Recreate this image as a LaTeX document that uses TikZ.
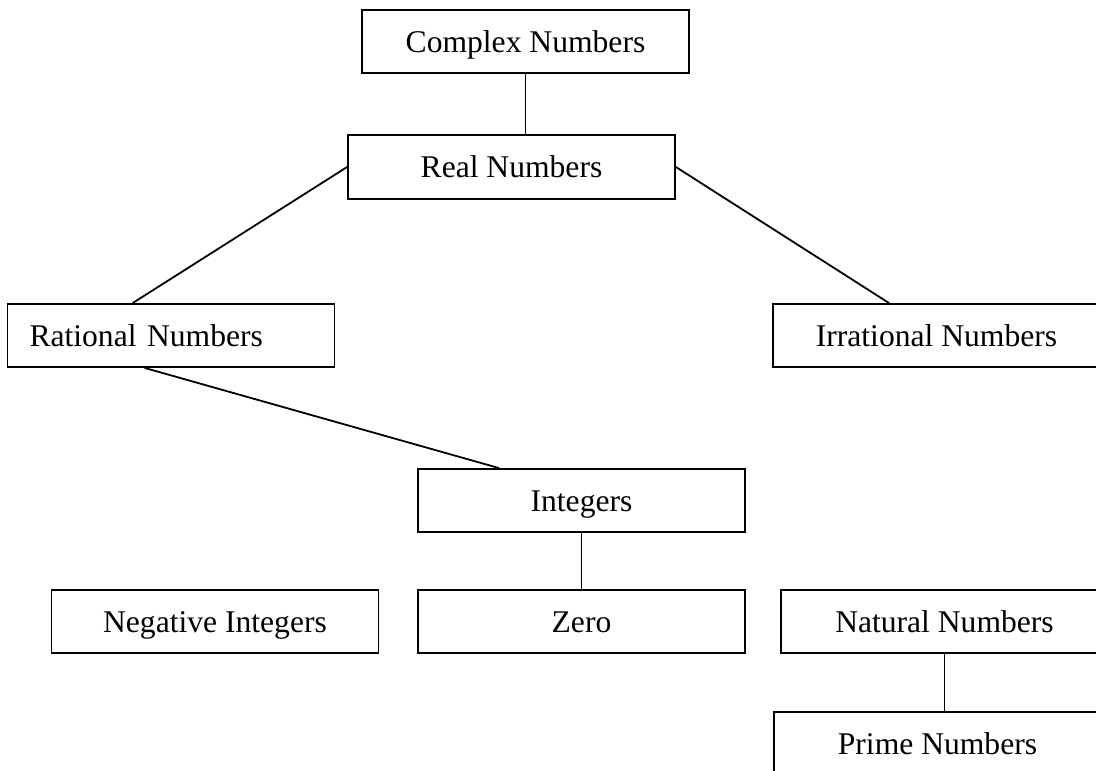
\documentclass[tikz,border=0pt]{standalone}
\usepackage{fontspec}
\setmainfont{Liberation Serif}
\begin{document}
\begin{tikzpicture}[x=1pt,y=-1pt,
  box/.style={draw=black, line width=1.8pt, minimum width=327pt, minimum height=63pt,
    inner sep=0pt, text height=21pt, text depth=0pt,
    font=\fontsize{31.6}{38}\selectfont},
  leftbox/.style={box, text width=283pt, align=left, inner xsep=22pt},
  link/.style={line width=1.8pt}]
\useasboundingbox (0,0) rectangle (1096,771);
\clip (0,0) rectangle (1096,771);
\node[box] (complex) at (525.5,41.5) {Complex Numbers};
\node[box, minimum height=64pt] (real) at (511.5,167) {Real Numbers};
\node[leftbox] (rational) at (171,335.5) {Rational Numbers};
\node[box] (irrational) at (936.5,335.5) {Irrational Numbers};
\node[box] (integers) at (581.5,500.5) {Integers};
\node[box] (negative) at (215,621.5) {Negative Integers};
\node[box] (zero) at (581.5,621.5) {Zero};
\node[box] (natural) at (944.5,621.5) {Natural Numbers};
\node[box] (prime) at (937.5,743.5) {Prime Numbers};
\draw[link] (complex.south) -- (complex.south |- real.north);
\draw[link] (real.west) -- ([xshift=126pt]rational.north west);
\draw[link] (real.east) -- ([xshift=117pt]irrational.north west);
\draw[link] ([xshift=138pt]rational.south west) -- ([xshift=82pt]integers.north west);
\draw[link] (integers.south) -- (zero.north);
\draw[link] (natural.south) -- (natural.south |- prime.north);
\end{tikzpicture}
\end{document}
